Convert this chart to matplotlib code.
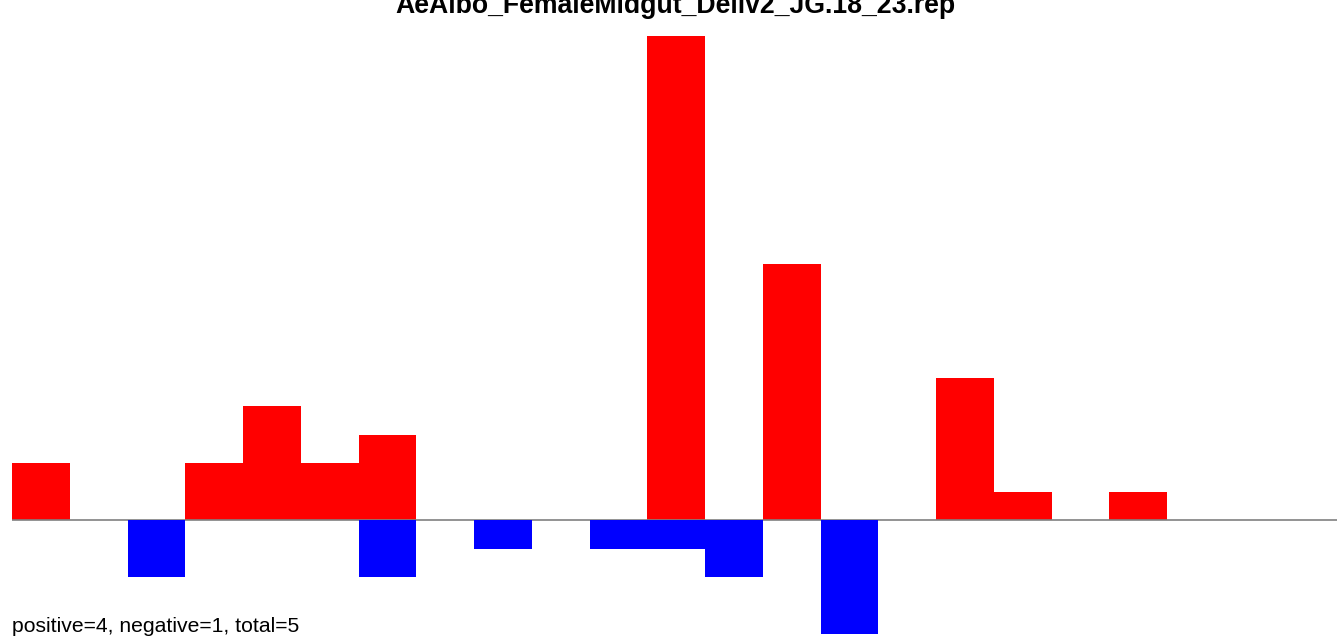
import numpy as np
import matplotlib
matplotlib.use("Agg")
import matplotlib.pyplot as plt

title = "AeAlbo_FemaleMidgut_Deliv2_JG.18_23.rep"
note = "positive=4, negative=1, total=5"

# counts per bin (23 bins)
pos = [2, 0, 0, 2, 4, 2, 3, 0, 0, 0, 0, 17, 0, 9, 0, 0, 5, 1, 0, 1, 0, 0, 0]
neg = [0, 0, -2, 0, 0, 0, -2, 0, -1, 0, -1, -1, -2, 0, -4, 0, 0, 0, 0, 0, 0, 0, 0]

plt.rcParams['font.family'] = ['Liberation Sans', 'DejaVu Sans']

W, H = 1337, 640
fig = plt.figure(figsize=(W / 100, H / 100), dpi=100)
base = 520
unit = 28.5
binw = 57.75
ax = fig.add_axes([12 / W, 0, 1 - 12 / W, 1])
ax.set_xlim(0, (W - 12) / binw)
ax.set_ylim(-(H - base) / unit, base / unit)
ax.axis('off')

x = np.arange(len(pos))
ax.bar(x, pos, width=1, align='edge', color='#ff0000', linewidth=0, zorder=2)
ax.axhline(0, color='#808080', lw=1.2, zorder=3)
ax.bar(x, neg, width=1, align='edge', color='#0000ff', linewidth=0, zorder=4)

fig.text(675 / W, 1 - 13 / H, title, ha='center', va='baseline',
         fontsize=19.2, fontweight='bold')
fig.text(12 / W, 1 - 632 / H, note, ha='left', va='baseline', fontsize=15.2)

fig.savefig('out.png', dpi=100)
